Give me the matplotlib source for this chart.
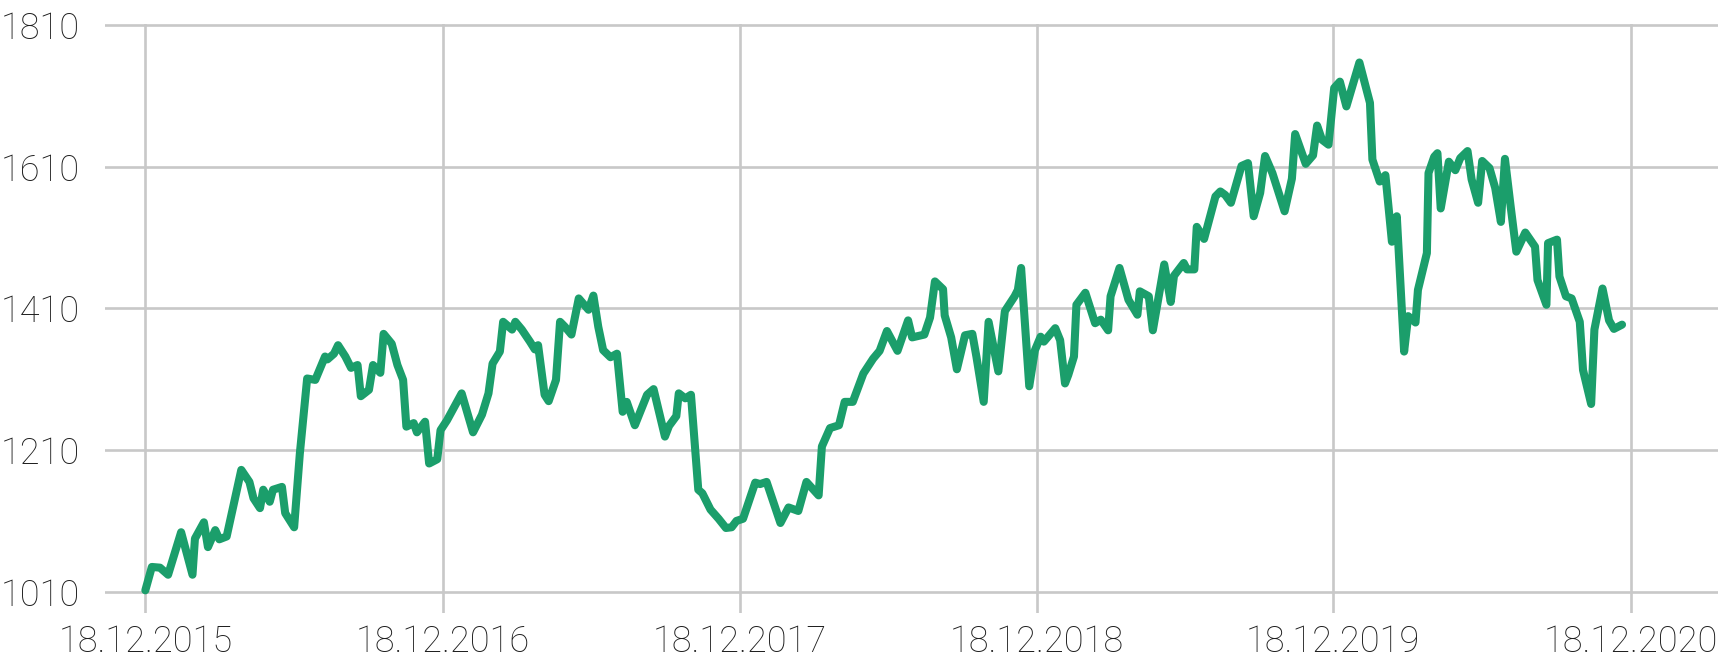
import matplotlib
matplotlib.use("Agg")
import matplotlib.pyplot as plt
import matplotlib.dates as mdates
import pandas as pd

# ---- data ----
start_date = "2015-12-18"
days = [0, 8, 18, 28, 44, 58, 61, 72, 77, 86, 91, 100, 118, 128, 133, 141, 145, 153, 157, 168,
        172, 183, 190, 199, 209, 221, 224, 232, 237, 246, 253, 261, 265, 275, 280, 289, 293, 303,
        310, 317, 321, 330, 334, 344, 349, 359, 363, 371, 389, 403, 414, 422, 427, 436, 440, 451,
        455, 463, 473, 479, 483, 491, 496, 505, 510, 516, 524, 533, 545, 551, 557, 563, 572, 580,
        587, 592, 602, 617, 625, 639, 644, 653, 656, 664, 671, 680, 685, 695, 705, 714, 721, 727,
        735, 750, 756, 764, 781, 791, 803, 813, 828, 832, 842, 853, 860, 870, 883, 895, 903, 912,
        925, 938, 943, 958, 965, 971, 981, 983, 991, 998, 1008, 1017, 1022, 1031, 1037, 1049, 1057,
        1069, 1073, 1077, 1087, 1094, 1101, 1105, 1119, 1125, 1131, 1135, 1142, 1145, 1156, 1168,
        1175, 1184, 1187, 1198, 1209, 1220, 1223, 1234, 1239, 1253, 1261, 1265, 1277, 1281, 1290,
        1293, 1302, 1316, 1322, 1328, 1335, 1348, 1356, 1363, 1371, 1377, 1386, 1401, 1410, 1414,
        1427, 1436, 1441, 1447, 1455, 1462, 1469, 1477, 1493, 1506, 1509, 1518, 1525, 1533, 1539,
        1548, 1553, 1562, 1565, 1576, 1578, 1585, 1589, 1593, 1603, 1611, 1617, 1626, 1631, 1639,
        1644, 1653, 1660, 1667, 1672, 1679, 1686, 1697, 1709, 1712, 1723, 1725, 1736, 1739, 1747,
        1754, 1764, 1768, 1778, 1782, 1792, 1800, 1806, 1816]
values = [1012, 1045, 1044, 1034, 1094, 1034, 1085, 1108, 1073, 1097, 1084, 1088, 1182, 1165, 1142,
          1128, 1154, 1137, 1154, 1158, 1121, 1101, 1205, 1311, 1309, 1342, 1338, 1346, 1358, 1342,
          1326, 1330, 1286, 1295, 1330, 1319, 1374, 1360, 1330, 1309, 1243, 1248, 1235, 1250, 1191,
          1197, 1238, 1252, 1290, 1235, 1260, 1290, 1332, 1349, 1391, 1380, 1391, 1380, 1363, 1352,
          1358, 1288, 1279, 1309, 1391, 1384, 1373, 1424, 1408, 1428, 1384, 1351, 1341, 1346, 1264,
          1278, 1245, 1288, 1296, 1229, 1244, 1258, 1290, 1283, 1288, 1154, 1149, 1126, 1113, 1100,
          1101, 1110, 1113, 1164, 1162, 1165, 1107, 1129, 1124, 1165, 1146, 1215, 1241, 1245, 1278,
          1278, 1318, 1339, 1350, 1378, 1350, 1393, 1369, 1373, 1397, 1448, 1437, 1400, 1369, 1324,
          1372, 1374, 1342, 1278, 1391, 1321, 1406, 1427, 1436, 1467, 1300, 1351, 1370, 1363, 1382,
          1365, 1304, 1316, 1342, 1415, 1432, 1389, 1394, 1379, 1427, 1467, 1422, 1401, 1434, 1427,
          1379, 1472, 1419, 1456, 1474, 1465, 1465, 1525, 1508, 1568, 1575, 1570, 1559, 1611, 1615,
          1540, 1573, 1625, 1601, 1547, 1593, 1656, 1614, 1626, 1668, 1648, 1641, 1721, 1730, 1695,
          1757, 1700, 1620, 1589, 1598, 1504, 1540, 1349, 1399, 1390, 1436, 1488, 1601, 1624, 1629,
          1551, 1617, 1605, 1622, 1632, 1592, 1559, 1618, 1608, 1580, 1532, 1621, 1554, 1490, 1517,
          1497, 1450, 1415, 1502, 1507, 1455, 1427, 1424, 1391, 1323, 1275, 1380, 1438, 1393, 1381,
          1387]
x_tick_dates = ["2015-12-18", "2016-12-18", "2017-12-18", "2018-12-18", "2019-12-18", "2020-12-18"]
y_ticks = [1010, 1210, 1410, 1610, 1810]

# ---- styling ----
LINE_COLOR = "#1b9e6b"
GRID_COLOR = "#c8c8c8"
TEXT_COLOR = "#1e1e1e"

plt.rcParams["font.family"] = ["Roboto", "DejaVu Sans"]

dates = pd.to_datetime(start_date) + pd.to_timedelta(days, unit="D")
tick_dates = pd.to_datetime(x_tick_dates)

fig = plt.figure(figsize=(17.18, 6.58), dpi=100)
ax = fig.add_axes([105 / 1718, 1 - 613 / 658, 1 - 105 / 1718, (613 - 25.2) / 658 + 0.002])

ax.plot(dates, values, color=LINE_COLOR, linewidth=5.8, solid_joinstyle="round",
        solid_capstyle="round", zorder=3)

ax.set_ylim(980, 1811.5)
ax.set_xlim(pd.to_datetime(start_date) - pd.Timedelta(days=49.6),
            pd.to_datetime(start_date) + pd.Timedelta(days=1934))

ax.set_yticks(y_ticks)
ax.set_yticklabels([str(v) for v in y_ticks])
ax.set_xticks(tick_dates)
ax.xaxis.set_major_formatter(mdates.DateFormatter("%d.%m.%Y"))

ax.grid(True, color=GRID_COLOR, linewidth=1.9, zorder=0)
ax.set_axisbelow(True)
for s in ax.spines.values():
    s.set_visible(False)

ax.tick_params(axis="both", length=0, colors=TEXT_COLOR, labelsize=26)
ax.tick_params(axis="y", pad=18)
ax.tick_params(axis="x", pad=8)
for lab in ax.get_xticklabels() + ax.get_yticklabels():
    lab.set_fontweight("light")
    lab.set_color(TEXT_COLOR)

fig.savefig("out.png", dpi=100, facecolor="white")
